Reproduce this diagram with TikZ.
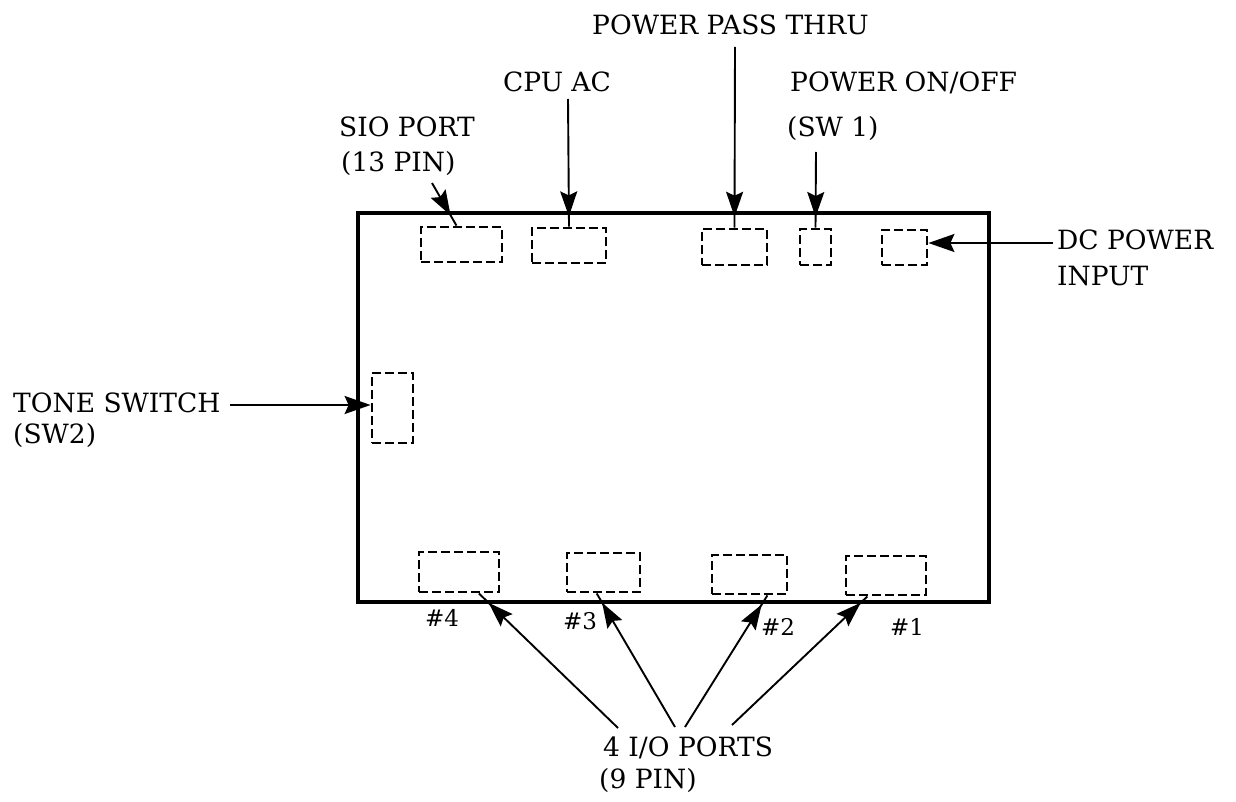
\documentclass[tikz,border=0pt]{standalone}
\usepackage{fontspec}
\setmainfont{DejaVu Serif}
\usetikzlibrary{arrows.meta,decorations.markings,calc}
\begin{document}
\begin{tikzpicture}[x=1pt,y=-1pt,
  lbl/.style={inner sep=0pt, anchor=base west, font=\fontsize{26.5}{30}\selectfont},
  num/.style={inner sep=0pt, font=\fontsize{23}{26}\selectfont},
  port/.style={draw, dash pattern=on 9pt off 4pt, line width=2.8pt, inner sep=0pt},
  board/.style={draw, line width=4.5pt, inner sep=0pt},
  lead/.style={line width=1.9pt},
  tipat/.style={postaction=decorate, decoration={markings, mark=at position #1 with {\arrow{Stealth[length=25pt,width=17pt,inset=4pt]}}}},
  endarr/.style={-{Stealth[length=26pt,width=18pt,inset=4pt]}}
]
\useasboundingbox (0,0) rectangle (1236,802);
% board
\node[board, minimum width=631pt, minimum height=389pt] (board) at (673.5,407.5) {};
% ports
\node[port, minimum width=81pt, minimum height=35pt] (sio) at (461.5,244.5) {};
\node[port, minimum width=74pt, minimum height=35pt] (cpu) at (569,245.5) {};
\node[port, minimum width=65pt, minimum height=36pt] (ppt) at (734.5,247) {};
\node[port, minimum width=31pt, minimum height=36pt] (sw1) at (815.5,247) {};
\node[port, minimum width=45pt, minimum height=35pt] (dc) at (904.5,247.5) {};
\node[port, minimum width=41pt, minimum height=70pt] (tone) at (392.5,408) {};
\node[port, minimum width=80pt, minimum height=40pt] (p4) at (459,572) {};
\node[port, minimum width=73pt, minimum height=39pt] (p3) at (603.5,572.5) {};
\node[port, minimum width=75pt, minimum height=39pt] (p2) at (749.5,574.5) {};
\node[port, minimum width=80pt, minimum height=39pt] (p1) at (886,575.5) {};
% labels
\node[lbl] (pptl) at (592,35) {POWER PASS THRU};
\node[lbl, anchor=base] (cpul) at (557,92) {CPU AC};
\node[lbl] (onoffl) at (790,92) {POWER ON/OFF};
\node[lbl] (sw1l) at (787,137) {(SW 1)};
\node[lbl] (siol) at (339,137) {SIO PORT};
\node[lbl] (siol2) at (341,172) {(13 PIN)};
\node[lbl] (dcl) at (1057,250) {DC POWER};
\node[lbl] (dcl2) at (1057,285) {INPUT};
\node[lbl] (tonel) at (13,412) {TONE SWITCH};
\node[lbl] (tonel2) at (13,443) {(SW2)};
\node[lbl] (iol) at (603,756) {4 I/O PORTS};
\node[lbl] (iol2) at (599,788) {(9 PIN)};
\node[num] (n4) at (442,618) {\#4};
\node[num] (n3) at (580,621) {\#3};
\node[num] (n2) at (778,627) {\#2};
\node[num] (n1) at (907,627) {\#1};
% tails
\coordinate (tsio) at (432,183);
\coordinate (tcpu) at (568,99);
\coordinate (tppt) at (735,47);
\coordinate (tsw1) at (816,152);
\coordinate (tdc) at (1053,243);
\coordinate (ttone) at (230,405);
\coordinate (tp4) at (618,728);
\coordinate (tp3) at (675,727);
\coordinate (tp2) at (685,727);
\coordinate (tp1) at (732,725);
% connectors
\draw[lead, tipat=0.76] (tsio) -- ($(sio.north west)!0.44!(sio.north east)$);
\draw[lead, tipat=0.92] (tcpu) -- (cpu.north);
\draw[lead, tipat=0.94] (tppt) -- (ppt.north);
\draw[lead, tipat=0.86] (tsw1) -- (sw1.north);
\draw[lead, endarr] (tdc) -- (dc.east |- tdc);
\draw[lead, endarr] (ttone) -- (tone.west |- ttone);
\draw[lead, tipat=0.93] (tp4) -- ($(p4.south west)!0.74!(p4.south east)$);
\draw[lead, tipat=0.93] (tp3) -- ($(p3.south west)!0.41!(p3.south east)$);
\draw[lead, tipat=0.93] (tp2) -- ($(p2.south west)!0.73!(p2.south east)$);
\draw[lead, tipat=0.95] (tp1) -- ($(p1.south west)!0.275!(p1.south east)$);
\end{tikzpicture}
\end{document}
